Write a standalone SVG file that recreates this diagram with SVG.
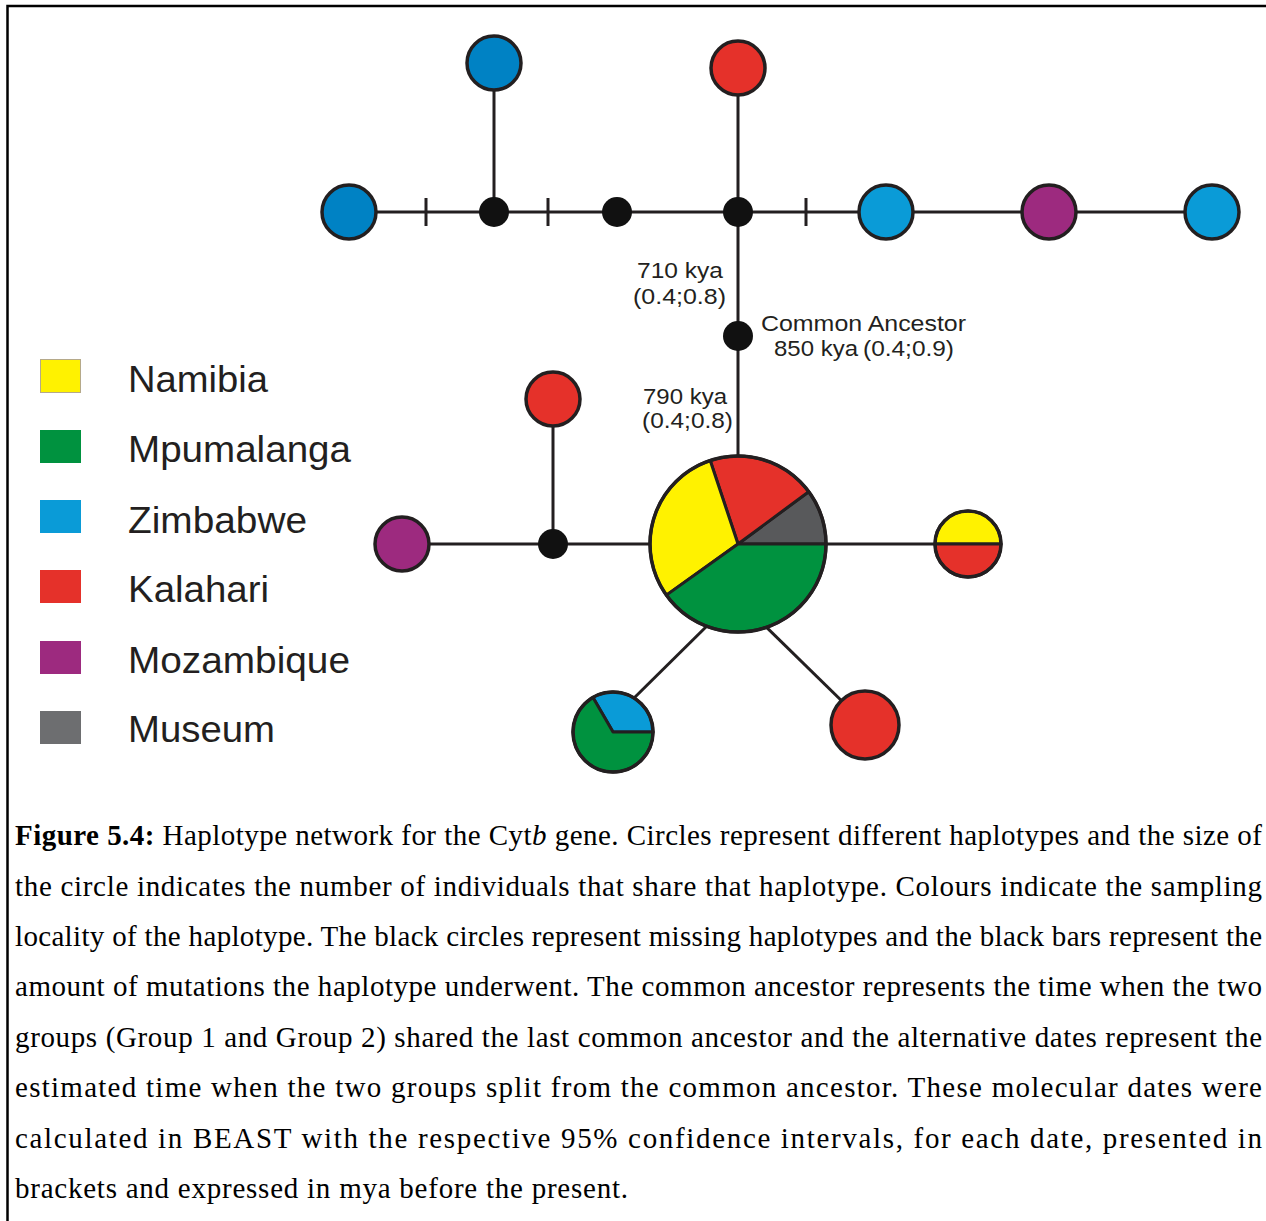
<svg xmlns="http://www.w3.org/2000/svg" width="1266" height="1221" viewBox="0 0 1266 1221">
<style>
.ln{stroke:#231f20;stroke-width:3;fill:none}
.nd{stroke:#231f20;stroke-width:3.5}
.mv{fill:#111;stroke:none}
.yel{fill:#fff200}.red{fill:#e5312a}.grn{fill:#00923f}.lbl{fill:#0a9bd7}.dbl{fill:#0082c4}.pur{fill:#9d2a7f}.gry{fill:#58595b}
.sl{stroke:#231f20;stroke-width:3;stroke-linejoin:round}
.lab{font-family:"Liberation Sans",Arial,sans-serif;font-size:22px;fill:#231f20}
.leg{font-family:"Liberation Sans",Arial,sans-serif;font-size:36px;fill:#231f20}
.cap{font-family:"Liberation Serif","Times New Roman",serif;font-size:29px;fill:#000}
</style>
<rect width="1266" height="1221" fill="#fff"/>
<path d="M7.5 1221 V6 H1266" fill="none" stroke="#000" stroke-width="2.5"/>

<g id="connectors">
<line class="ln" x1="349" y1="212" x2="1212" y2="212"/>
<line class="ln" x1="494" y1="63" x2="494" y2="212"/>
<line class="ln" x1="738" y1="68" x2="738" y2="544"/>
<line class="ln" x1="402" y1="544" x2="968" y2="544"/>
<line class="ln" x1="553" y1="399" x2="553" y2="544"/>
<line class="ln" x1="712" y1="621" x2="630" y2="702"/>
<line class="ln" x1="760" y1="621" x2="848" y2="707"/>
<g id="ticks">
<line class="ln" x1="426" y1="198" x2="426" y2="226"/>
<line class="ln" x1="548" y1="198" x2="548" y2="226"/>
<line class="ln" x1="806" y1="198" x2="806" y2="226"/>
</g>
</g>

<g id="nodes">
<g id="n-blue-left"><circle class="nd dbl" cx="349" cy="212" r="27"/></g>
<g id="n-blue-top"><circle class="nd dbl" cx="494" cy="63" r="27"/></g>
<g id="n-red-top"><circle class="nd red" cx="738" cy="68" r="27"/></g>
<g id="n-blue-r1"><circle class="nd lbl" cx="886" cy="212" r="27"/></g>
<g id="n-purple-top"><circle class="nd pur" cx="1049" cy="212" r="27"/></g>
<g id="n-blue-r2"><circle class="nd lbl" cx="1212" cy="212" r="27"/></g>
<g id="mv1"><circle class="mv" cx="494" cy="212" r="15"/></g>
<g id="mv2"><circle class="mv" cx="617" cy="212" r="15"/></g>
<g id="mv3"><circle class="mv" cx="738" cy="212" r="15"/></g>
<g id="ancestor"><circle class="mv" cx="738" cy="336" r="15"/></g>
<g id="mv4"><circle class="mv" cx="553" cy="544" r="15"/></g>
<g id="n-red-left"><circle class="nd red" cx="553" cy="399" r="27"/></g>
<g id="n-purple-left"><circle class="nd pur" cx="402" cy="544" r="27"/></g>
<g id="n-red-bottom"><circle class="nd red" cx="865" cy="725" r="34"/></g>
<g id="n-half">
<path class="yel sl" d="M935 544 A33 33 0 0 1 1001 544 Z"/>
<path class="red sl" d="M935 544 A33 33 0 0 0 1001 544 Z"/>
<circle cx="968" cy="544" r="33" fill="none" stroke="#231f20" stroke-width="3.5"/>
</g>
<g id="n-small-pie">
<path class="lbl sl" d="M613 732 L653 732 A40 40 0 0 0 593 697.4 Z"/>
<path class="grn sl" d="M613 732 L593 697.4 A40 40 0 1 0 653 732 Z"/>
<circle cx="613" cy="732" r="40" fill="none" stroke="#231f20" stroke-width="3.5"/>
</g>
<g id="n-big-pie">
<path class="gry sl" d="M738 544 L826 544 A88 88 0 0 0 808.7 491.7 Z"/>
<path class="red sl" d="M738 544 L808.7 491.7 A88 88 0 0 0 710.2 460.5 Z"/>
<path class="yel sl" d="M738 544 L710.2 460.5 A88 88 0 0 0 666.4 595.1 Z"/>
<path class="grn sl" d="M738 544 L666.4 595.1 A88 88 0 0 0 826 544 Z"/>
<circle cx="738" cy="544" r="88" fill="none" stroke="#231f20" stroke-width="3.5"/>
</g>
</g>

<g id="labels">
<text class="lab" x="637" y="278" textLength="86" lengthAdjust="spacingAndGlyphs">710 kya</text>
<text class="lab" x="633" y="304" textLength="93" lengthAdjust="spacingAndGlyphs">(0.4;0.8)</text>
<text class="lab" x="761" y="331" textLength="205" lengthAdjust="spacingAndGlyphs">Common Ancestor</text>
<text class="lab" x="774" y="356" textLength="84" lengthAdjust="spacingAndGlyphs">850 kya</text>
<text class="lab" x="863" y="356" textLength="91" lengthAdjust="spacingAndGlyphs">(0.4;0.9)</text>
<text class="lab" x="643" y="404" font-size="21" textLength="84" lengthAdjust="spacingAndGlyphs">790 kya</text>
<text class="lab" x="642" y="428" font-size="21" textLength="91" lengthAdjust="spacingAndGlyphs">(0.4;0.8)</text>
</g>

<g id="legend">
<rect x="40.5" y="359.5" width="40" height="33" fill="#fff200" stroke="#b5a98a" stroke-width="1"/>
<rect x="40" y="430" width="41" height="33" fill="#00923f"/>
<rect x="40" y="500" width="41" height="33" fill="#0a9bd7"/>
<rect x="40" y="570" width="41" height="33" fill="#e5312a"/>
<rect x="40" y="641" width="41" height="33" fill="#9d2a7f"/>
<rect x="40" y="711" width="41" height="33" fill="#6d6e70"/>
<text class="leg" x="128" y="392" textLength="140" lengthAdjust="spacingAndGlyphs">Namibia</text>
<text class="leg" x="128" y="462" textLength="223" lengthAdjust="spacingAndGlyphs">Mpumalanga</text>
<text class="leg" x="128" y="533" textLength="179" lengthAdjust="spacingAndGlyphs">Zimbabwe</text>
<text class="leg" x="128" y="602" textLength="141" lengthAdjust="spacingAndGlyphs">Kalahari</text>
<text class="leg" x="128" y="673" textLength="222" lengthAdjust="spacingAndGlyphs">Mozambique</text>
<text class="leg" x="128" y="742" textLength="147" lengthAdjust="spacingAndGlyphs">Museum</text>
</g>

<g id="caption">
<text class="cap" x="15" y="845" textLength="1247" lengthAdjust="spacing"><tspan font-weight="bold">Figure 5.4:</tspan> Haplotype network for the Cyt<tspan font-style="italic">b</tspan> gene. Circles represent different haplotypes and the size of</text>
<text class="cap" x="15" y="896" textLength="1247" lengthAdjust="spacing">the circle indicates the number of individuals that share that haplotype. Colours indicate the sampling</text>
<text class="cap" x="15" y="946" textLength="1247" lengthAdjust="spacing">locality of the haplotype. The black circles represent missing haplotypes and the black bars represent the</text>
<text class="cap" x="15" y="996" textLength="1247" lengthAdjust="spacing">amount of mutations the haplotype underwent. The common ancestor represents the time when the two</text>
<text class="cap" x="15" y="1047" textLength="1247" lengthAdjust="spacing">groups (Group 1 and Group 2) shared the last common ancestor and the alternative dates represent the</text>
<text class="cap" x="15" y="1097" textLength="1247" lengthAdjust="spacing">estimated time when the two groups split from the common ancestor. These molecular dates were</text>
<text class="cap" x="15" y="1148" textLength="1247" lengthAdjust="spacing">calculated in BEAST with the respective 95% confidence intervals, for each date, presented in</text>
<text class="cap" x="15" y="1198" textLength="613" lengthAdjust="spacing">brackets and expressed in mya before the present.</text>
</g>
</svg>
